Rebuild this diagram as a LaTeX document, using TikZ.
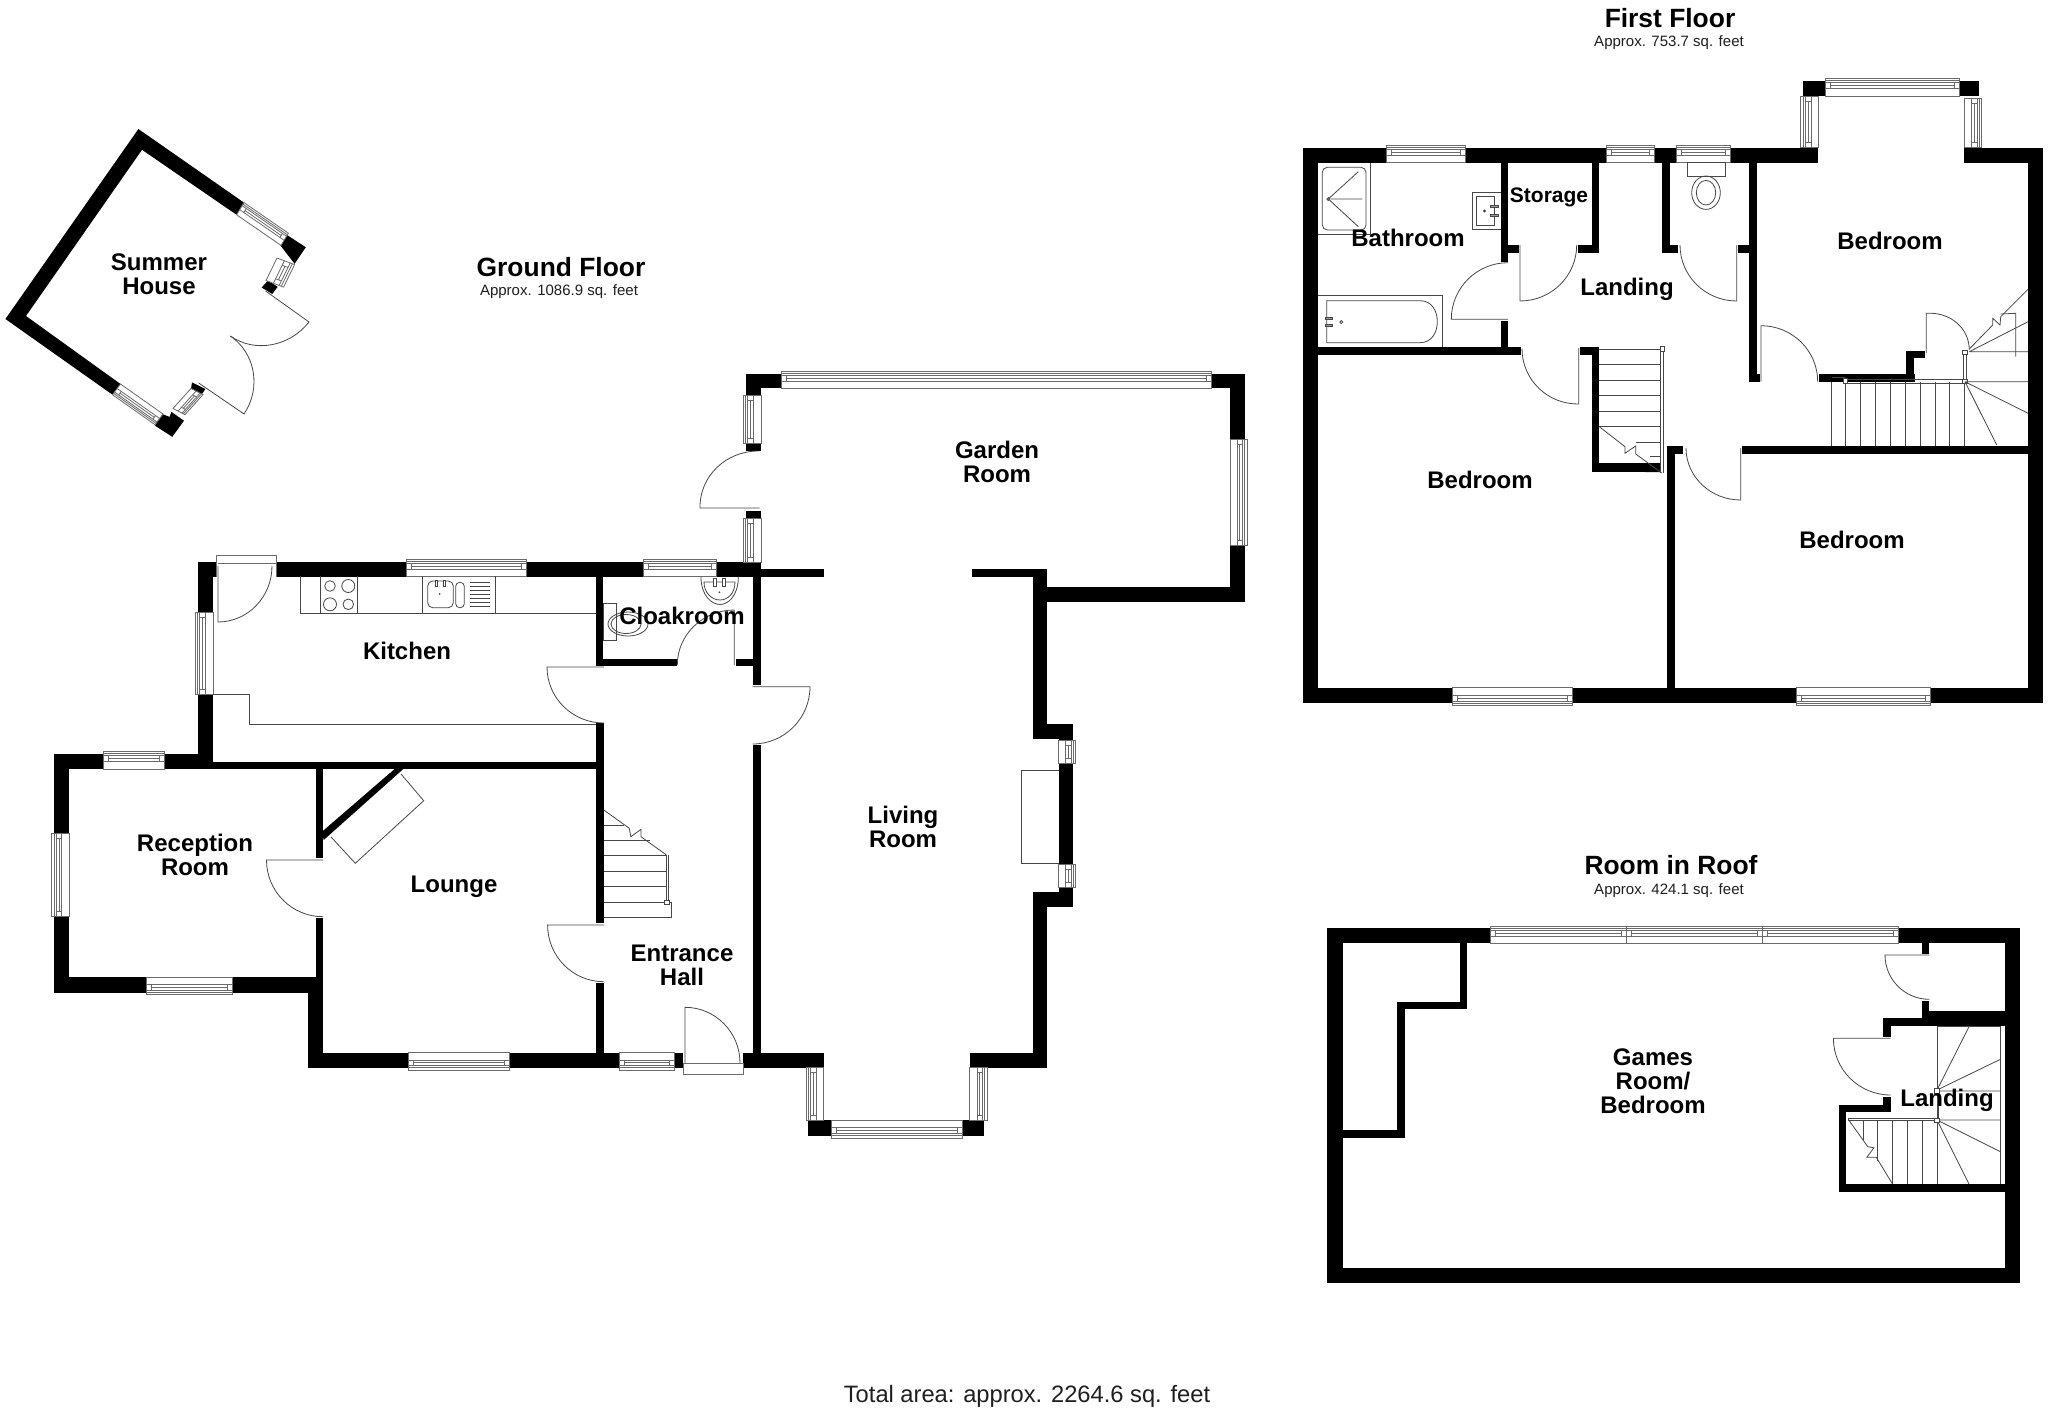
\documentclass[tikz,border=0pt]{standalone}
\usepackage{fontspec}
\setmainfont{Liberation Sans}
\usetikzlibrary{calc}
\tikzset{
  wall/.style={fill=black,draw=none},
  thinl/.style={draw=black!72,line width=.8pt},
  winl/.style={draw=black!58,line width=.8pt},
  room/.style={font=\fontsize{24}{24}\selectfont\bfseries,align=center,inner sep=0pt,text=black},
  floort/.style={font=\fontsize{26.4}{28}\selectfont\bfseries,inner sep=0pt,text=black},
  approxt/.style={font=\fontsize{15}{17}\selectfont,inner sep=0pt,text=black!88},
  totalt/.style={font=\fontsize{23.7}{26}\selectfont,inner sep=0pt,text=black!88}
}
\newcommand{\wallr}[4]{\fill[wall] (#1,#2) rectangle (#3,#4);}
\newcommand{\winq}[6]{%
  \pgfmathsetmacro{\ux}{#3-#1}\pgfmathsetmacro{\uy}{#2-#4}%
  \pgfmathsetmacro{\vx}{#5-#1}\pgfmathsetmacro{\vy}{#2-#6}%
  \pgfmathsetmacro{\ee}{5/veclen(\ux,\uy)}%
  \begin{scope}[shift={(#1,#2)},x={(\ux pt,\uy pt)},y={(\vx pt,\vy pt)}]
    \fill[white] (0,0) -- (1,0) -- (1,1) -- (0,1) -- cycle;
    \draw[winl] (0,0) -- (1,0) -- (1,1) -- (0,1) -- cycle;
    \draw[winl] (0,.42) -- (1,.42) (0,.87) -- (1,.87) (0,.75) -- (1,.75);
    \draw[winl] (\ee,.58) -- ({1-\ee},.58) (\ee,.42) -- (\ee,.75) ({1-\ee},.42) -- ({1-\ee},.75);
  \end{scope}}
\newcommand{\winh}[4]{\winq{#1}{#3}{#2}{#3}{#1}{#4}}
\newcommand{\winv}[4]{\winq{#3}{#1}{#3}{#2}{#4}{#1}}
\newcommand{\doorq}[6]{\draw[thinl] (#1,#2) -- (#3,#4) .. controls ($(#3,#4)+.5523*(#5,#6)-.5523*(#1,#2)$) and ($(#5,#6)+.5523*(#3,#4)-.5523*(#1,#2)$) .. (#5,#6);}
\begin{document}
\begin{tikzpicture}[x=1pt,y=-1pt]
\useasboundingbox (0,0) rectangle (2048,1411);
\fill[white] (0,0) rectangle (2048,1411);

% ---------- Summer house
\fill[wall] (138.4,129) -- (244,202.6) -- (236.6,214.8) -- (142,149.8) -- (26,316) -- (120.5,384) -- (112.5,394.7) -- (5.4,319) -- cycle;
\fill[wall] (286.6,234.7) -- (305.8,247.3) -- (294.6,263.8) -- (280.4,245.4) -- cycle;
\fill[wall] (268,280.6) -- (277.7,286.8) -- (272.3,294) -- (261.6,287.5) -- cycle;
\fill[wall] (155,425.7) -- (161.6,413.8) -- (169.6,416.9) -- (171.4,411.9) -- (184,420.7) -- (172.3,436.8) -- cycle;
\fill[wall] (192,382.4) -- (205.4,389) -- (201,395.4) -- (191,389) -- cycle;
\winq{236.6}{214.8}{281}{245.4}{244}{202.6}
\winq{277}{258}{266}{280.5}{294.6}{264.6}
\winq{120.5}{384}{163}{414}{112.5}{394.7}
\winq{191}{388.5}{173}{408.5}{203}{394.6}
\doorq{265.6}{291}{309}{322}{230.4}{336}
\doorq{198.7}{383}{244}{414}{230.4}{336}

% ---------- Ground floor walls
\wallr{197.8}{561.7}{216.5}{576.5}
\wallr{197.8}{561.7}{213}{612}
\wallr{276.8}{561.7}{761}{576.7}
\wallr{761}{569.4}{824}{577}
\wallr{198}{694}{212.5}{769.3}
\wallr{53.8}{754}{198}{769.3}
\wallr{198}{761.7}{596}{769.3}
\wallr{53.8}{754}{69}{992.7}
\wallr{53.8}{977.3}{323.2}{992.7}
\wallr{307.9}{977.3}{323.2}{1067.7}
\wallr{315.5}{769}{323.2}{858.3}
\wallr{315.5}{917.7}{323.2}{985}
\fill[wall] (394.6,769) -- (403.3,769) -- (323.7,840) -- (322,831.7) -- cycle;
\wallr{307.9}{1052.7}{683}{1067.7}
\wallr{743}{1052.7}{823.5}{1067.7}
\wallr{595.7}{576}{603.3}{666}
\wallr{595.7}{658.5}{676.7}{666}
\wallr{735.7}{658.5}{753}{666}
\wallr{596}{723}{603.8}{923}
\wallr{596}{982.7}{603.8}{1053}
\wallr{752.9}{576}{760.7}{685}
\wallr{752.9}{745}{760.7}{1053}
\wallr{808}{1120.4}{831}{1136}
\wallr{962}{1120.4}{984}{1136}
\wallr{969.7}{1053}{1047.4}{1067.7}
\wallr{1032.5}{892}{1047.4}{1067.7}
\wallr{1032.5}{892}{1073.4}{907}
\wallr{1058.5}{724}{1073.4}{907}
\wallr{1032.5}{724}{1073.4}{739}
\wallr{1032.5}{569.4}{1047.4}{739}
\wallr{971.6}{569.4}{1040}{577}
\wallr{1032.5}{569.4}{1040}{590}
\wallr{1032.5}{587}{1244.5}{602}
\wallr{1230}{373.5}{1244.5}{602}
\wallr{746}{373.5}{1244.5}{388}
\wallr{746}{373.5}{761}{450.5}
\wallr{746}{510.7}{761}{577}

% ---------- Ground floor windows
\winh{406}{526}{576.5}{559}
\winh{643}{716.7}{576.7}{559}
\winv{612}{694}{213}{195}
\winh{103.8}{164}{769.3}{751}
\winv{833}{916.7}{69}{51.7}
\winh{146.6}{232.3}{977.3}{994.7}
\winh{408.4}{509.4}{1052.7}{1070}
\winh{619.6}{674}{1052.7}{1070}
\winv{1067}{1120.4}{823.5}{806}
\winh{831}{962}{1120.4}{1138}
\winv{1067}{1120.4}{969.7}{987}
\winv{740}{763}{1058.5}{1075.7}
\winv{864}{887}{1058.5}{1075.7}
\winh{781}{1211.6}{388}{371.4}
\winv{439}{545}{1230}{1247}
\winv{395}{443}{761}{743.5}
\winv{518.4}{562}{761}{743.5}

% door frames ground
\fill[white] (216.5,555.4) rectangle (276.8,576.5);
\draw[winl] (216.5,576.5) -- (216.5,555.4) -- (276.8,555.4) -- (276.8,576.5);
\draw[winl] (218,563) -- (276.8,563);
\doorq{218}{566}{218}{622}{272}{566}
\fill[white] (683,1063) rectangle (743,1074);
\draw[winl] (683,1063) rectangle (743,1074);
\doorq{685}{1063}{685}{1007.3}{740}{1063}
\doorq{603.8}{667}{547}{667}{603.8}{723}
\doorq{603.8}{925}{547.6}{925}{603.8}{981.7}
\doorq{323}{860}{266.5}{860}{323}{916.7}
\doorq{752.7}{686.7}{810}{686.7}{752.7}{744}
\doorq{734.3}{665}{734.3}{610}{677.3}{665}
\doorq{759.6}{508}{700}{508}{758.5}{451}

% kitchen fittings
\draw[thinl] (300,576) -- (300,613.5) -- (596,613.5);
\draw[thinl] (320.7,576) -- (320.7,613.5) (357.7,576) -- (357.7,613.5);
\draw[thinl] (330,586) circle (5.3) (348.3,586) circle (6.5) (330,604.3) circle (6.5) (348.3,604.3) circle (5.3);
\draw[thinl] (422.3,576) -- (422.3,613.5) (495.7,576) -- (495.7,613.5);
\draw[thinl,rounded corners=5pt] (427.7,581) rectangle (453.3,607.7);
\draw[thinl,rounded corners=4pt] (455.7,582.3) rectangle (464.3,607.7);
\foreach \yy in {582.3,586.7,590.7,594.7,598.7,602.7,606.7}{\draw[thinl] (470.3,\yy) -- (490,\yy);}
\draw[thinl,fill=white] (435,580) rectangle (437,586.7) (443.3,580) rectangle (445.3,586.7);
\fill[black!70] (439.7,594) circle (1);
\draw[thinl] (213,694) -- (249,694) -- (249,724) -- (596,724);

% cloakroom fittings
\draw[thinl] (603.3,603) rectangle (616.7,640);
\draw[thinl] (628,624) ellipse (20 and 12) (626,624) ellipse (15 and 9.5);
\draw[thinl] (701,577) .. controls (701,596) and (712,604.5) .. (720,604.5) .. controls (728,604.5) and (738.3,596) .. (738.3,577);
\draw[thinl] (704,582) .. controls (704,593) and (712,600) .. (720,600) .. controls (728,600) and (735,593) .. (735,582) -- cycle;
\draw[thinl,fill=white] (713.5,578) rectangle (716,586) (722.7,578) rectangle (725,586);
\fill[black!70] (719.3,592.3) circle (1);

% fireplace, chimney
\draw[thinl] (1058.5,770) -- (1021,770) -- (1021,863) -- (1058.5,863);
\draw[thinl] (401,774) -- (423.7,800.7) -- (355.3,863.3) -- (330.8,836.7);

% hall stairs
\draw[thinl] (603.8,810) -- (629.3,828.3) -- (630.8,836.7) -- (641,829.3) -- (641,836.7) -- (666.5,855);
\draw[thinl] (603.8,825) -- (624,825) (603.8,840) -- (650,840) (603.8,855.7) -- (666.5,855.7) (603.8,871) -- (666.5,871) (603.8,886.7) -- (666.5,886.7) (603.8,902) -- (671.6,902) (603.8,917.7) -- (671.6,917.7) -- (671.6,902);
\draw[thinl] (666.5,855) -- (666.5,902) (668.6,855) -- (668.6,902);
\draw[thinl,fill=white] (664.5,900) rectangle (669.6,904.3);

% ---------- First floor walls
\wallr{1303.3}{147.7}{1818.3}{162.7}
\wallr{1964}{147.7}{2043}{162.7}
\wallr{1303.3}{147.7}{1318.3}{703.3}
\wallr{2028}{147.7}{2043}{703.3}
\wallr{1303.3}{687.7}{2043}{703.3}
\wallr{1803}{80.7}{1825.7}{96}
\wallr{1959.7}{80.7}{1979.3}{96}
\wallr{1500.7}{162.7}{1508}{261.7}
\wallr{1500.7}{245}{1518.7}{252.7}
\wallr{1591.7}{162.7}{1599.3}{252.7}
\wallr{1577.7}{245}{1599.3}{252.7}
\wallr{1500.7}{320.7}{1508}{355}
\wallr{1318}{347.3}{1521}{355.3}
\wallr{1580}{347.3}{1599.3}{355.3}
\wallr{1591.7}{347.3}{1599.3}{471.7}
\wallr{1591.7}{463.3}{1660}{471.7}
\fill[wall] (1645,463.3) -- (1660,472) -- (1645,472) -- cycle;
\wallr{1662.3}{162.7}{1670}{252.7}
\wallr{1662.3}{245}{1678.3}{252.7}
\wallr{1749}{162.7}{1756.7}{381.7}
\wallr{1738.3}{245}{1749}{252.7}
\wallr{1749}{374}{1760}{381.7}
\wallr{1819.3}{374}{1915}{381.7}
\wallr{1906}{350.7}{1914}{381.7}
\wallr{1906}{350.7}{1925}{358.3}
\wallr{1741.7}{446}{2028}{454}
\wallr{1666.7}{446}{1683.3}{454}
\wallr{1667}{446}{1675}{688}

% first floor windows
\winh{1386}{1465}{162.7}{145}
\winh{1606.7}{1654.3}{162.7}{145}
\winh{1676.7}{1730}{162.7}{145}
\winh{1825.7}{1959.7}{96}{78.3}
\winv{96}{147.7}{1818.3}{1800.7}
\winv{98.3}{147.7}{1964}{1981.7}
\winh{1452}{1572}{687.7}{705.3}
\winh{1796.4}{1930.3}{687.7}{705.3}

% first floor doors
\doorq{1520}{245}{1520}{301}{1576.7}{245}
\doorq{1508}{319.3}{1451.3}{319.3}{1508}{262.7}
\doorq{1578.7}{348}{1578.7}{404}{1522}{348.7}
\doorq{1736.7}{245}{1736.7}{301}{1680}{245}
\doorq{1761}{381.7}{1761}{325.7}{1817.7}{381.7}
\doorq{1926.3}{353}{1926.3}{313.3}{1969.3}{350}
\doorq{1740.7}{448}{1740.7}{500}{1686}{448}

% bathroom fittings
\draw[thinl] (1318,234) -- (1370.3,234) -- (1370.3,163);
\draw[thinl,rounded corners=5pt] (1322.3,167.3) rectangle (1366,230);
\draw[thinl] (1358.3,171.7) -- (1328.3,199) -- (1358.3,226.7) (1330.5,199) -- (1362.3,199);
\draw[thinl] (1328.3,199) circle (1.5);
\draw[thinl] (1500.7,192.3) -- (1472.7,192.3) -- (1472.7,229.3) -- (1500.7,229.3);
\draw[thinl] (1494,196) -- (1476,196) -- (1476,225.7) -- (1494,225.7) -- cycle;
\draw[thinl,fill=black!40] (1490,205.7) rectangle (1498,207.7) (1490,214) rectangle (1498,216);
\draw[thinl] (1484.5,211) circle (1);
\draw[thinl] (1318,295.7) -- (1442.7,295.7) -- (1442.7,347.3);
\draw[thinl] (1420,300.7) -- (1326.7,300.7) -- (1326.7,342.7) -- (1420,342.7) .. controls (1432,342.7) and (1437.3,332) .. (1437.3,321.7) .. controls (1437.3,311) and (1432,300.7) .. (1420,300.7);
\draw[thinl,fill=black!40] (1325,317.3) rectangle (1332.7,319.3) (1325,324) rectangle (1332.7,326);
\draw[thinl] (1341.3,322) circle (1.5);

% WC
\draw[thinl] (1687.3,162.7) rectangle (1725,176);
\draw[thinl] (1706,192.7) ellipse (14.3 and 16.7) (1706,192.7) ellipse (9.7 and 12.3);

% first floor stairs (landing)
\foreach \yy in {349.3,364.3,380,395.7,411,426.7}{\draw[thinl] (1599.3,\yy) -- (1660,\yy);}
\draw[thinl] (1636,442) -- (1660,442) (1650,456.7) -- (1660,456.7);
\draw[thinl] (1660,348) -- (1660,473) (1663.3,348) -- (1663.3,473);
\draw[thinl,fill=white] (1660,346) rectangle (1664.3,351.5);
\draw[thinl] (1599.3,426.7) -- (1625,446.7) -- (1625,453.3) -- (1635.7,446) -- (1635.7,454) -- (1661.7,473);

% first floor stairs (bedroom side)
\foreach \xx in {1831.7,1845.7,1860.7,1875.7,1890.7,1905,1920,1935,1949.7,1964.3}{\draw[thinl] (\xx,381.7) -- (\xx,446);}
\draw[thinl] (1831.7,377) -- (1845,377);
\draw[thinl] (1845,379.3) rectangle (1965,383.3);
\draw[thinl,fill=white] (1843.3,378.5) rectangle (1847.7,383.5);
\draw[thinl] (1963.3,352) rectangle (1966.3,381);
\draw[thinl,fill=white] (1962.5,379) rectangle (1967,383.5) (1962.5,350) rectangle (1967,354.5);
\draw[thinl] (1965,381.7) -- (2028,381.7) (1965,381.7) -- (2028,413.3) (1965,381.7) -- (1996.7,445);
\draw[thinl] (1969.3,351.7) -- (2028,351.7) (1969.3,351.7) -- (2028,321.7);
\draw[thinl] (1969.3,349) -- (1992.7,325) -- (1992.7,318.3) -- (2000,325) -- (2000.7,316.7) -- (2028,289.3);
\draw[thinl] (2000.7,314) -- (2015.7,313.3) -- (2015.7,356.7);

% ---------- Room in roof walls
\wallr{1327}{928.3}{2020.4}{943.3}
\wallr{1327}{928.3}{1343}{1283.3}
\wallr{2005}{928.3}{2020.4}{1283.3}
\wallr{1327}{1268.3}{2020.4}{1283.3}
\wallr{1459.8}{943}{1467}{1009.3}
\wallr{1397.3}{1001.7}{1467}{1009.3}
\wallr{1397.3}{1001.7}{1404.5}{1138.3}
\wallr{1343}{1130.3}{1404.5}{1138.3}
\wallr{1921.7}{943}{1929.3}{954}
\wallr{1921.7}{1001}{1929.3}{1026}
\wallr{1921.7}{1010.7}{2005}{1026}
\wallr{1883}{1017.7}{1929.3}{1026}
\wallr{1883}{1017.7}{1890.6}{1036.7}
\wallr{1883}{1096.7}{1890.6}{1112.3}
\wallr{1839}{1104.7}{1890.6}{1112.3}
\wallr{1839}{1104.7}{1846.3}{1191.7}
\wallr{1839}{1184}{2005}{1191.7}
\winh{1490}{1626.3}{943.3}{926}
\winh{1626.3}{1762.3}{943.3}{926}
\winh{1762.3}{1898}{943.3}{926}
\doorq{1929.3}{955}{1885}{955}{1929.3}{999.3}
\doorq{1890.6}{1038.3}{1833.4}{1038.3}{1890.6}{1095}

% roof stairs
\draw[thinl] (1937,1026.7) -- (2000.4,1026.7) -- (2000.4,1184) (1937,1026.7) -- (1937,1184);
\draw[thinl] (1937,1090) -- (1969,1026.7) (1937,1090) -- (2000.4,1059.3) (1937,1091) -- (2000.4,1091) (1937,1120) -- (2000.4,1120) (1937,1120) -- (2000.4,1151.7) (1937,1120) -- (1969,1184);
\draw[thinl] (1848.7,1118.3) rectangle (1937,1120.7);
\draw[thinl] (1938.5,1091) -- (1938.5,1120);
\draw[thinl,fill=white] (1934.7,1088) rectangle (1939.3,1093) (1934.7,1118) rectangle (1939.3,1122.5);
\draw[thinl] (1848.7,1120) -- (1867.8,1146.7) -- (1874,1147.7) -- (1866.8,1157.3) -- (1876.3,1157.3) -- (1892.5,1184);
\draw[thinl] (1863,1120) -- (1863,1140) (1877.7,1120) -- (1877.7,1161) (1892.5,1120) -- (1892.5,1184) (1907.3,1120) -- (1907.3,1184) (1922,1120) -- (1922,1184);

% ---------- Text
\node[room] (tsummer) at (159,274.5) {Summer\\House};
\node[room] (tkitchen) at (407,651) {Kitchen};
\node[room] (tcloak) at (682,616) {Cloakroom};
\node[room] (trecep) at (195,854.5) {Reception\\Room};
\node[room] (tlounge) at (454,886.5) {Lounge};
\node[room] (thall) at (682,965) {Entrance\\Hall};
\node[room] (tliving) at (903,827) {Living\\Room};
\node[room] (tgarden) at (997,461.5) {Garden\\Room};
\node[room] (tbath) at (1408,238) {Bathroom};
\node[room,font=\fontsize{21}{24}\selectfont\bfseries] (tstor) at (1549,197) {Storage};
\node[room] (tland) at (1627,289.5) {Landing};
\node[room] (tbed1) at (1890,241) {Bedroom};
\node[room] (tbed2) at (1480,479.5) {Bedroom};
\node[room] (tbed3) at (1852,539.5) {Bedroom};
\node[room] (tgames) at (1653,1081) {Games\\Room/\\Bedroom};
\node[room] (tland2) at (1947,1100) {Landing};
\node[floort] (tground) at (561,267) {Ground Floor};
\node[approxt] (aground) at (559,292) {Approx. 1086.9 sq. feet};
\node[floort] (tfirst) at (1670,18) {First Floor};
\node[approxt] (afirst) at (1669,43) {Approx. 753.7 sq. feet};
\node[floort] (troof) at (1671,865) {Room in Roof};
\node[approxt] (aroof) at (1669,891) {Approx. 424.1 sq. feet};
\node[totalt] (ttotal) at (1027,1396) {Total area: approx. 2264.6 sq. feet};
\end{tikzpicture}
\end{document}
